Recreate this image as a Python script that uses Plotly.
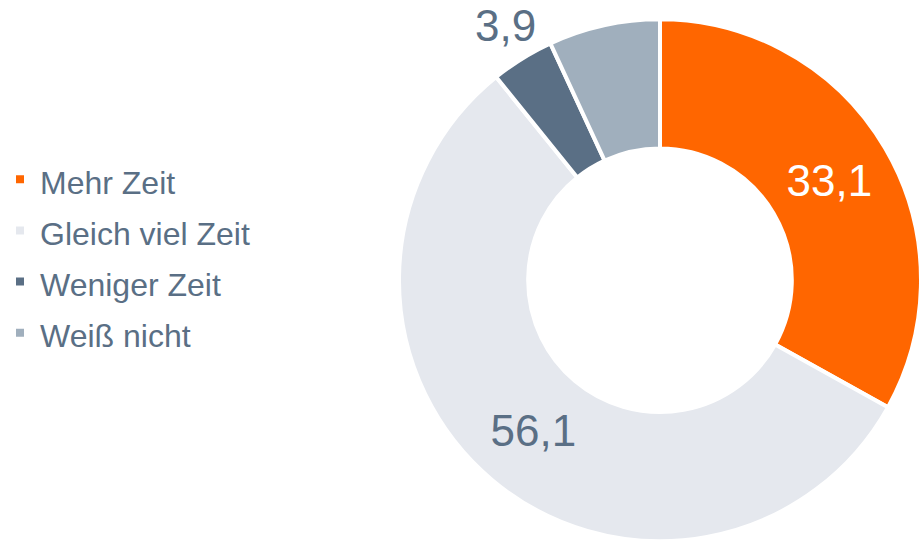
import math
import plotly.graph_objects as go

# Antworten in Prozent
categories = ["Mehr Zeit", "Gleich viel Zeit", "Weniger Zeit", "Weiß nicht"]
values = [33.1, 56.1, 3.9, 6.9]
colors = ["#FF6600", "#E5E8EE", "#5A6F85", "#A0AFBD"]
text_positions = ["inside", "inside", "none", "none"]
text_colors = ["#FFFFFF", "#5A6F85", "#5A6F85", "#5A6F85"]

FONT = "Arial, Liberation Sans, sans-serif"
TEXT = "#5A6F85"
W, H = 921, 543
DOM_X = [0.4332, 1.0]
DOM_Y = [0.0, 0.968]

# legend entries are set a bit smaller than the legend font so the rows get more air
legend_labels = [f'<span style="font-size:32px">{c}</span>' for c in categories]

fig = go.Figure(
    go.Pie(
        labels=legend_labels,
        values=values,
        sort=False,
        direction="clockwise",
        rotation=0,
        hole=0.505,
        marker=dict(colors=colors, line=dict(color="#FFFFFF", width=4)),
        texttemplate="%{value:.1f}",
        textposition=text_positions,
        insidetextorientation="horizontal",
        textfont=dict(family=FONT, size=44, color=text_colors),
        domain=dict(x=DOM_X, y=DOM_Y),
        hovertemplate="%{customdata}: %{value:.1f}<extra></extra>",
        customdata=categories,
        showlegend=True,
    )
)

# value label of the small "Weniger Zeit" slice, set just outside the ring at the slice's mid-angle
idx = 2
mid_share = (sum(values[:idx]) + values[idx] / 2) / sum(values)
angle = 2 * math.pi * mid_share
cx = (DOM_X[0] + DOM_X[1]) / 2 * W
cy = (DOM_Y[0] + DOM_Y[1]) / 2 * H
radius = min((DOM_X[1] - DOM_X[0]) * W, (DOM_Y[1] - DOM_Y[0]) * H) / 2
label_r = radius * 1.14
fig.add_annotation(
    x=(cx + label_r * math.sin(angle)) / W + 0.003,
    y=(cy + label_r * math.cos(angle)) / H + 0.003,
    xref="paper",
    yref="paper",
    text=f"{values[idx]:.1f}".replace(".", ","),
    showarrow=False,
    font=dict(family=FONT, size=44, color=TEXT),
    xanchor="center",
    yanchor="middle",
)

fig.update_layout(
    width=W,
    height=H,
    margin=dict(l=0, r=0, t=0, b=0),
    paper_bgcolor="#FFFFFF",
    plot_bgcolor="#FFFFFF",
    separators=",.",
    font=dict(family=FONT, color=TEXT),
    legend=dict(
        x=0.0,
        xanchor="left",
        y=0.528,
        yanchor="middle",
        font=dict(family=FONT, size=37, color=TEXT),
        bgcolor="rgba(0,0,0,0)",
    ),
)

fig.write_html("out.html")
